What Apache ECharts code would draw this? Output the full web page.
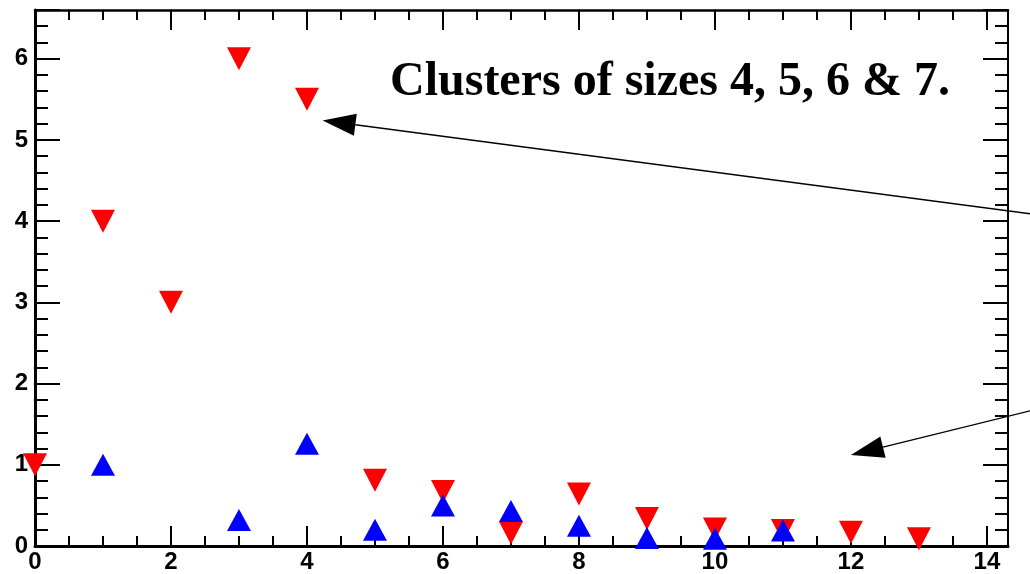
<!DOCTYPE html>
<html>
<head>
<meta charset="utf-8">
<script src="https://cdn.jsdelivr.net/npm/echarts@6/dist/echarts.min.js"></script>
<style>
html,body{margin:0;padding:0;background:#fff;}
#chart{width:1030px;height:574px;}
</style>
</head>
<body>
<div id="chart"></div>
<script>
// ---- data ----
const redX = [0, 1, 2, 3, 4, 5, 6, 7, 8, 9, 10, 11, 12, 13];
const redValues = [1.0, 4.0, 3.0, 6.0, 5.5, 0.81, 0.67, 0.16, 0.64, 0.34, 0.21, 0.19, 0.17, 0.09];
const blueX = [1, 3, 4, 5, 6, 7, 8, 9, 10, 11];
const blueValues = [1.0, 0.32, 1.26, 0.2, 0.5, 0.43, 0.25, 0.1, 0.09, 0.19];
const xTickLabels = ['0', '2', '4', '6', '8', '10', '12', '14'];
const yTickLabels = ['0', '1', '2', '3', '4', '5', '6'];
const titleText = 'Clusters of sizes 4, 5, 6 & 7.';
// arrows in data coordinates: [tail, tip]
const arrow1 = [[15.1, 4.04], [4.23, 5.24]];
const arrow2 = [[15.1, 1.76], [12.0, 1.12]];

const X_MAX = 14.31, Y_MAX = 6.6;

const chart = echarts.init(document.getElementById('chart'), null, {renderer: 'canvas'});

const labelFont = {fontFamily: 'Liberation Sans', fontWeight: 'bold', fontSize: 24, color: '#000'};

function xAxisCfg(pos, show) {
  return {
    type: 'value', position: pos, min: 0, max: X_MAX, interval: 2,
    axisLine: {show: true, onZero: false, lineStyle: {color: '#000', width: pos === 'bottom' ? 3 : 2.5}},
    axisTick: {show: true, inside: true, length: 20, lineStyle: {color: '#000', width: 2}},
    minorTick: {show: true, splitNumber: 4, length: 10, lineStyle: {color: '#000', width: 2}},
    axisLabel: show ? Object.assign({
      show: true, margin: 4,
      formatter: v => (xTickLabels.indexOf(String(v)) >= 0 ? String(v) : ''),
      showMaxLabel: false
    }, labelFont) : {show: false},
    splitLine: {show: false}
  };
}
function yAxisCfg(pos, show) {
  return {
    type: 'value', position: pos, min: 0, max: Y_MAX, interval: 1,
    axisLine: {show: true, onZero: false, lineStyle: {color: '#000', width: pos === 'left' ? 3 : 2}},
    axisTick: {show: true, inside: true, length: 25, lineStyle: {color: '#000', width: 2}},
    minorTick: {show: true, splitNumber: 5, length: 13, lineStyle: {color: '#000', width: 2}},
    axisLabel: show ? Object.assign({
      show: true, margin: 7,
      formatter: v => (yTickLabels.indexOf(String(v)) >= 0 ? String(v) : ''),
      showMaxLabel: false
    }, labelFont) : {show: false},
    splitLine: {show: false}
  };
}

const option = {
  animation: false,
  backgroundColor: '#fff',
  grid: {left: 35, top: 10, right: 22, bottom: 26, containLabel: false},
  xAxis: [xAxisCfg('bottom', true), xAxisCfg('top', false)],
  yAxis: [yAxisCfg('left', true), yAxisCfg('right', false)],
  series: [
    {
      type: 'scatter', xAxisIndex: 0, yAxisIndex: 0,
      data: redX.map((x, i) => [x, redValues[i]]),
      symbol: 'triangle', symbolRotate: 180, symbolSize: [24, 23],
      itemStyle: {color: '#ff0000', opacity: 1},
      clip: false, z: 3
    },
    {
      type: 'scatter', xAxisIndex: 0, yAxisIndex: 0,
      data: blueX.map((x, i) => [x, blueValues[i]]),
      symbol: 'triangle', symbolSize: [24, 22],
      itemStyle: {color: '#0000ff', opacity: 1},
      clip: false, z: 4
    }
  ]
};
chart.setOption(option);

function arrowGraphics(a) {
  const p0 = chart.convertToPixel({xAxisIndex: 0, yAxisIndex: 0}, a[0]);
  const p1 = chart.convertToPixel({xAxisIndex: 0, yAxisIndex: 0}, a[1]);
  const dx = p1[0] - p0[0], dy = p1[1] - p0[1];
  const len = Math.sqrt(dx * dx + dy * dy);
  const ux = dx / len, uy = dy / len;
  const headLen = 33, headW = 22;
  const bx = p1[0] - ux * headLen, by = p1[1] - uy * headLen;
  const nx = -uy, ny = ux;
  return [
    {type: 'line', z: 10, shape: {x1: p0[0], y1: p0[1], x2: bx, y2: by},
     style: {stroke: '#000', lineWidth: 1.3}},
    {type: 'polygon', z: 10, shape: {points: [
      [p1[0], p1[1]],
      [bx + nx * headW / 2, by + ny * headW / 2],
      [bx - nx * headW / 2, by - ny * headW / 2]
    ]}, style: {fill: '#000'}}
  ];
}

chart.setOption({
  graphic: [
    ...arrowGraphics(arrow1),
    ...arrowGraphics(arrow2),
    {type: 'text', z: 10, x: 390, y: 83,
     style: {text: titleText, font: 'bold 48px "Liberation Serif"', fill: '#000',
             align: 'left', verticalAlign: 'middle'}}
  ]
});
</script>
</body>
</html>
